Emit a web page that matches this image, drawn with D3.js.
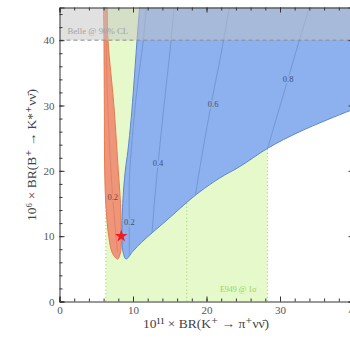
<!DOCTYPE html>
<html>
<head>
<meta charset="utf-8">
<script src="https://cdn.jsdelivr.net/npm/d3@7"></script>
<style>
	body { margin: 0; background: #fff; }
	text { font-family: "Liberation Serif", "DejaVu Serif", serif; }
</style>
</head>
<body>
<svg id="chart" width="350" height="339"></svg>
<script>
// E949 1 sigma band (x in 10^-11)
var e949 = [6.3, 17.3, 28.3];
// Belle 90% CL limit (y in 10^-6)
var belleLimit = 40;

// red (orange) allowed region, traced left side top->bottom then right side bottom->top
var redRegion = [[6.0,47],[6.0,45],[6.05,40],[6.1,30],[6.15,20],[6.3,15],[6.7,10],[7.2,7.4],[7.9,6.5],
	[8.3,7.5],[8.4,10],[8.3,15],[8.0,20],[7.4,30],[6.6,40],[6.5,45],[6.45,47]];
var redContour = [[6.3,45],[6.5,32],[7.0,20],[7.25,16],[7.6,11],[7.9,7.6]];

// blue allowed region boundary: left side top->bottom, then lower edge to the right
var blueEdge = [[11.05,47],[10.9,45],[10.55,40],[10.1,33],[9.75,28],[9.3,23],[8.95,20],[8.6,15],[8.5,10],[8.6,7.8],[9.05,6.5],
	[10.0,7.7],[11.2,9.1],[12.7,10.6],[14.35,12.2],[16.0,13.85],[17.35,15.2],[19.1,16.8],[21.8,18.9],[24.6,20.7],[28.4,23.5],[32.7,26.0],[39.5,29.2],[41.0,29.8]];

// contour lines inside the blue region
var contourNames = ["0.2", "0.4", "0.6", "0.8"];
var contours = [
	[[9.5,7.2],[9.5,12],[9.5,18.5],[9.9,25],[10.6,33],[11.4,40],[11.8,45]],
	[[12.6,10.5],[12.9,15],[13.4,21],[14.3,30.8],[15.0,38],[15.6,45]],
	[[18.5,16.3],[19.1,20.5],[20.6,30],[22.0,38],[23.1,45]],
	[[28.3,23.4],[29.5,28],[31.1,34.1],[32.5,39.5],[34.0,45]]
];
var contourLabelPos = [[9.5,12.2],[13.4,21.2],[20.9,30.2],[31.1,34.1]];
var redLabelPos = [7.25,16.0];

var starPoint = [8.4, 10];

var xTicks = [0, 10, 20, 30, 40];
var yTicks = [0, 10, 20, 30, 40];

var svg = d3.select("#chart"),
	x = d3.scaleLinear().domain([0, 40]).range([59.5, 353.5]),
	y = d3.scaleLinear().domain([0, 45]).range([301.5, 7.5]);

svg.append("defs").append("clipPath").attr("id", "plot")
	.append("rect")
	.attr("x", x(0)).attr("y", y(45))
	.attr("width", x(40) - x(0)).attr("height", y(0) - y(45));

var line = d3.line()
	.x(function(d) { return x(d[0]); })
	.y(function(d) { return y(d[1]); })
	.curve(d3.curveCatmullRom);

var g = svg.append("g").attr("clip-path", "url(#plot)");

// green band
g.append("rect")
	.attr("x", x(e949[0])).attr("y", y(45))
	.attr("width", x(e949[2]) - x(e949[0])).attr("height", y(0) - y(45))
	.attr("fill", "#e6f9ca");
g.selectAll(".e949").data(e949).enter().append("line")
	.attr("x1", function(d) { return x(d); }).attr("x2", function(d) { return x(d); })
	.attr("y1", y(0)).attr("y2", y(45))
	.attr("stroke", "#b3d98a").attr("stroke-width", 1.2)
	.attr("stroke-dasharray", "1.2,2.4");

// red region
g.append("path")
	.attr("d", line(redRegion) + "Z")
	.attr("fill", "#ef9579")
	.attr("stroke", "#e57b4c").attr("stroke-width", 1);
g.append("path")
	.attr("d", line(redContour))
	.attr("fill", "none").attr("stroke", "#d9775c").attr("stroke-width", 0.6);

// blue region
g.append("path")
	.attr("d", line(blueEdge) + "L" + x(41) + "," + y(47) + "Z")
	.attr("fill", "#8db1ee");
g.append("path")
	.attr("d", line(blueEdge))
	.attr("fill", "none").attr("stroke", "#5f86c6").attr("stroke-width", 1);

g.selectAll(".contour").data(contours).enter().append("path")
	.attr("d", line)
	.attr("fill", "none").attr("stroke", "#6d90cc").attr("stroke-width", 0.8);

g.selectAll(".clabel").data(contourLabelPos).enter().append("text")
	.attr("x", function(d) { return x(d[0]); })
	.attr("y", function(d) { return y(d[1]); })
	.attr("dy", "0.35em")
	.attr("text-anchor", "middle")
	.attr("font-size", 8.5)
	.attr("fill", "#3f5070")
	.attr("stroke", "#8db1ee").attr("stroke-width", 3)
	.attr("paint-order", "stroke")
	.text(function(d, i) { return contourNames[i]; });

g.append("text")
	.attr("x", x(redLabelPos[0])).attr("y", y(redLabelPos[1]))
	.attr("dy", "0.35em")
	.attr("text-anchor", "middle")
	.attr("font-size", 8.5)
	.attr("fill", "#6b4a3c")
	.attr("stroke", "#ef9579").attr("stroke-width", 3)
	.attr("paint-order", "stroke")
	.text("0.2");

// star
g.append("path")
	.attr("d", d3.symbol().type(d3.symbolStar).size(50))
	.attr("transform", "translate(" + x(starPoint[0]) + "," + y(starPoint[1]) + ")")
	.attr("fill", "#ee1c25");

// Belle band
g.append("rect")
	.attr("x", x(0)).attr("y", y(45))
	.attr("width", x(40) - x(0)).attr("height", y(belleLimit) - y(45))
	.attr("fill", "#c3c3c3").attr("fill-opacity", 0.5);
g.append("line")
	.attr("x1", x(0)).attr("x2", x(40))
	.attr("y1", y(belleLimit)).attr("y2", y(belleLimit))
	.attr("stroke", "#8c8c8c").attr("stroke-width", 1)
	.attr("stroke-dasharray", "4,3");

g.append("text")
	.attr("x", x(1.1)).attr("y", y(40.9))
	.attr("font-size", 8.8)
	.attr("fill", "#a3a3a3")
	.text("Belle @ 90% CL");

g.append("text")
	.attr("x", x(26.8)).attr("y", y(1.45))
	.attr("text-anchor", "end")
	.attr("font-size", 8)
	.attr("fill", "#95d35f")
	.text("E949 @ 1σ");

// axes (ticks pointing in, like the original)
function frame(axis, minor, major, transform, labels) {
	var a = svg.append("g").attr("transform", transform)
		.call(axis.tickValues(major).tickSize(-5).tickPadding(5)
			.tickFormat(labels ? d3.format("d") : ""));
	a.select(".domain").attr("stroke", "#333");
	a.selectAll(".tick line").attr("stroke", "#333");
	a.selectAll("text").attr("fill", "#555").attr("font-size", 11)
		.attr("font-family", "Liberation Serif");
	var m = svg.append("g").attr("transform", transform)
		.call(axis.tickValues(minor).tickSize(-3).tickFormat(""));
	m.select(".domain").remove();
	m.selectAll(".tick line").attr("stroke", "#333");
}
var xMinor = d3.range(0, 41, 2), yMinor = d3.range(0, 46, 2);
frame(d3.axisBottom(x), xMinor, xTicks, "translate(0," + y(0) + ")", true);
frame(d3.axisTop(x), xMinor, xTicks, "translate(0," + y(45) + ")", false);
frame(d3.axisLeft(y), yMinor, yTicks, "translate(" + x(0) + ",0)", true);
frame(d3.axisRight(y), yMinor, yTicks, "translate(" + x(40) + ",0)", false);

svg.append("text")
	.attr("x", 206).attr("y", 328)
	.attr("text-anchor", "middle")
	.attr("font-size", 13.5)
	.attr("fill", "#444")
	.text("10\u00b9\u00b9 \u00d7 BR(K\u207a \u2192 \u03c0\u207a\u03bd\u03bd\u0304)");

svg.append("text")
	.attr("transform", "translate(36,155) rotate(-90)")
	.attr("text-anchor", "middle")
	.attr("font-size", 13.5)
	.attr("fill", "#444")
	.text("10\u2076 \u00d7 BR(B\u207a \u2192 K*\u207a\u03bd\u03bd\u0304)");
</script>
</body>
</html>
